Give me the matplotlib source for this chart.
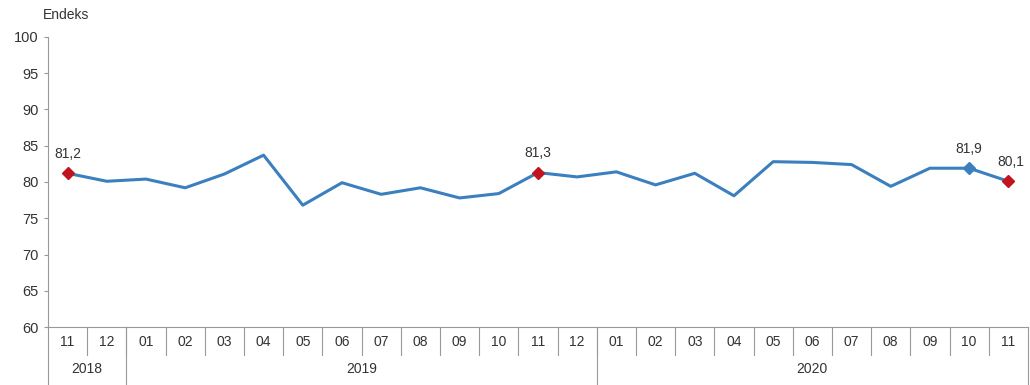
#! /usr/bin/python

# LIBRARIES
import matplotlib
matplotlib.use("Agg")
import matplotlib.pyplot as plt
import matplotlib.transforms as mtransforms
import numpy as np


# DATA
months = ["11", "12",
          "01", "02", "03", "04", "05", "06", "07", "08", "09", "10", "11", "12",
          "01", "02", "03", "04", "05", "06", "07", "08", "09", "10", "11"]
years = ["2018", "2019", "2020"]
yearCounts = [2, 12, 11]
values = [81.2, 80.1,
          80.4, 79.2, 81.1, 83.7, 76.8, 79.9, 78.3, 79.2, 77.8, 78.4, 81.3, 80.7,
          81.4, 79.6, 81.2, 78.1, 82.8, 82.7, 82.4, 79.4, 81.9, 81.9, 80.1]
redPoints = [0, 12, 24]
bluePoints = [23]
labels = {0: "81,2", 12: "81,3", 23: "81,9", 24: "80,1"}


def main():

    plt.rcParams["font.family"] = ["Liberation Sans", "DejaVu Sans"]
    fig = plt.figure(figsize = (10.3, 3.85), dpi = 100)
    ax = fig.add_axes([0.0466, 0.1506, 0.9514, 0.7534])

    x = np.arange(len(values))
    v = np.array(values)

    # Line and markers
    ax.plot(x, v, c = "#3b7fbf", lw = 2.2, zorder = 2)
    ax.plot(x[redPoints], v[redPoints], ls = "none", marker = "D", ms = 6.5,
            c = "#c0141e", zorder = 3)
    ax.plot(x[bluePoints], v[bluePoints], ls = "none", marker = "D", ms = 6.5,
            c = "#3b7fbf", zorder = 3)

    for i, txt in labels.items():
        dx = 0 if i != 24 else 2
        ax.annotate(txt, (x[i], v[i]), xytext = (dx, 9),
                    textcoords = "offset points", ha = "center", va = "bottom",
                    fontsize = 10, color = "#333333")

    # Axes
    ax.set_xlim(-0.5, len(values) - 0.5)
    ax.set_ylim(60, 100)
    ax.set_yticks(np.arange(60, 101, 5))
    ax.tick_params(axis = "y", labelsize = 10.5, colors = "#333333",
                   length = 3, color = "#999999")
    ax.set_xticks([])
    for s in ["top", "right"]:
        ax.spines[s].set_visible(False)
    ax.spines["left"].set_color("#999999")
    ax.spines["bottom"].set_color("#999999")

    ax.text(-0.005, 1.05, "Endeks", transform = ax.transAxes, ha = "left",
            va = "bottom", fontsize = 10, color = "#333333")

    # Two-level category axis
    trans = mtransforms.blended_transform_factory(ax.transData, ax.transAxes)
    grey = "#999999"
    for i, m in enumerate(months):
        ax.text(x[i], -0.05, m, transform = trans, ha = "center", va = "center",
                fontsize = 10, color = "#333333")
    for i in range(1, len(months)):
        ax.plot([i - 0.5, i - 0.5], [0, -0.095], transform = trans, c = grey,
                lw = 0.8, clip_on = False)

    start = 0
    bounds = [-0.5]
    for yr, n in zip(years, yearCounts):
        mid = start + (n - 1) / 2.0
        ax.text(mid, -0.145, yr, transform = trans, ha = "center",
                va = "center", fontsize = 10, color = "#333333")
        start += n
        bounds.append(start - 0.5)
    for b in bounds:
        ax.plot([b, b], [0, -0.2], transform = trans, c = grey, lw = 0.8,
                clip_on = False)

    fig.savefig("out.png", dpi = 100)


# Run this when script is called from terminal
if __name__ == "__main__":
    main()
